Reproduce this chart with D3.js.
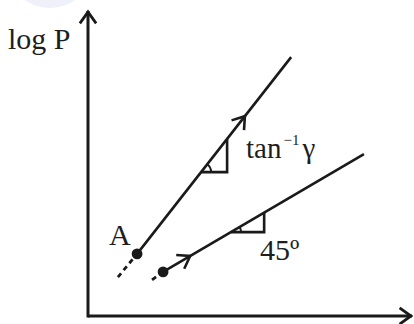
<!DOCTYPE html>
<html>
<head>
<meta charset="utf-8">
<script src="https://cdn.jsdelivr.net/npm/d3@7"></script>
<style>
  html, body { margin: 0; padding: 0; background: #fff; }
  svg { display: block; }
  text { font-family: "Liberation Serif", "DejaVu Serif", serif; fill: #1e1e1e; }
</style>
</head>
<body>
<div id="chart"></div>
<script>
// Chart data (abstract units on log T / log P axes)
const yLabel = "log P"
const lineNames = ["A", ""]
const startX = [1.51, 2.31]
const startY = [2.03, 1.44]
const endX = [6.25, 8.49]
const endY = [8.46, 5.29]
const dashX = [0.92, 1.97]
const dashY = [1.27, 1.18]
const arrowAt = [0.70, 0.135]
const triX0 = [3.48, 4.40]
const triX1 = [4.28, 5.42]
const angleLabels = ["tan", "45º"]

const width = 414
const height = 324
const margin = { left: 88, right: 1, top: 10, bottom: 8 }

const svg = d3.select('#chart')
    .append('svg')
    .attr('width', width)
    .attr('height', height)

const xScale = d3.scaleLinear()
    .domain([0, 10])
    .range([margin.left, width - margin.right])

const yScale = d3.scaleLinear()
    .domain([0, 10])
    .range([height - margin.bottom, margin.top])

// faint watermark blob at the top
svg.append('ellipse')
    .attr('cx', 50).attr('cy', -24)
    .attr('rx', 38).attr('ry', 32)
    .attr('fill', '#eef0fa')

const ink = '#1a1a1a'

// open chevron arrow head, tip at (x, y), pointing along angle a
const chevron = (x, y, a, len, spread, w) => {
    const p1 = [x - len * Math.cos(a - spread), y - len * Math.sin(a - spread)]
    const p2 = [x - len * Math.cos(a + spread), y - len * Math.sin(a + spread)]
    svg.append('path')
        .attr('d', `M${p1[0]},${p1[1]}L${x},${y}L${p2[0]},${p2[1]}`)
        .attr('fill', 'none')
        .attr('stroke', ink)
        .attr('stroke-width', w)
        .attr('stroke-linejoin', 'miter')
}

// Axes
const x0 = xScale(0), y0 = yScale(0)
svg.append('line')
    .attr('x1', x0).attr('y1', y0)
    .attr('x2', xScale(10) - 1).attr('y2', y0)
    .attr('stroke', ink).attr('stroke-width', 3)
svg.append('line')
    .attr('x1', x0).attr('y1', y0 + 1.5)
    .attr('x2', x0).attr('y2', yScale(10) + 1)
    .attr('stroke', ink).attr('stroke-width', 3)
chevron(xScale(10) - 2, y0, 0, 14, 0.62, 2.8)
chevron(x0, yScale(10) + 2, -Math.PI / 2, 14, 0.62, 2.8)

svg.append('text')
    .attr('x', 8).attr('y', 49)
    .attr('font-size', 30)
    .text(yLabel)

// Process lines
lineNames.forEach((name, i) => {
    const sx = xScale(startX[i]), sy = yScale(startY[i])
    const ex = xScale(endX[i]), ey = yScale(endY[i])
    const ang = Math.atan2(ey - sy, ex - sx)

    svg.append('line')
        .attr('x1', xScale(dashX[i])).attr('y1', yScale(dashY[i]))
        .attr('x2', sx).attr('y2', sy)
        .attr('stroke', ink).attr('stroke-width', 2.8)
        .attr('stroke-dasharray', '5,4')

    svg.append('line')
        .attr('x1', sx).attr('y1', sy)
        .attr('x2', ex).attr('y2', ey)
        .attr('stroke', ink).attr('stroke-width', 2.6)

    svg.append('circle')
        .attr('cx', sx).attr('cy', sy)
        .attr('r', 5.4)
        .attr('fill', ink)

    const ax = sx + (ex - sx) * arrowAt[i]
    const ay = sy + (ey - sy) * arrowAt[i]
    chevron(ax, ay, ang, 14, 0.6, 2.6)

    // slope triangle
    const slope = (ey - sy) / (ex - sx)
    const tx0 = xScale(triX0[i]), tx1 = xScale(triX1[i])
    const ty0 = sy + slope * (tx0 - sx)
    const ty1 = sy + slope * (tx1 - sx)
    svg.append('path')
        .attr('d', `M${tx0},${ty0}L${tx1},${ty0}L${tx1},${ty1}`)
        .attr('fill', 'none')
        .attr('stroke', ink).attr('stroke-width', 2.6)

    // angle arc
    const r = 10
    svg.append('path')
        .attr('d', `M${tx0 + r},${ty0}A${r},${r} 0 0 0 ${tx0 + r * Math.cos(ang)},${ty0 + r * Math.sin(ang)}`)
        .attr('fill', 'none')
        .attr('stroke', ink).attr('stroke-width', 2)

    if (name) {
        svg.append('text')
            .attr('x', sx - 28).attr('y', sy - 9)
            .attr('font-size', 30)
            .text(name)
    }
})

// angle labels
const t1 = svg.append('text')
    .attr('x', 246).attr('y', 158)
    .attr('font-size', 29)
t1.append('tspan').text(angleLabels[0])
t1.append('tspan').attr('font-size', 15).attr('dy', -13).attr('dx', 2).text('\u22121')
t1.append('tspan').attr('dy', 13).attr('dx', 3).text('\u03b3')

svg.append('text')
    .attr('x', 260).attr('y', 260)
    .attr('font-size', 30)
    .text(angleLabels[1])
</script>
</body>
</html>
